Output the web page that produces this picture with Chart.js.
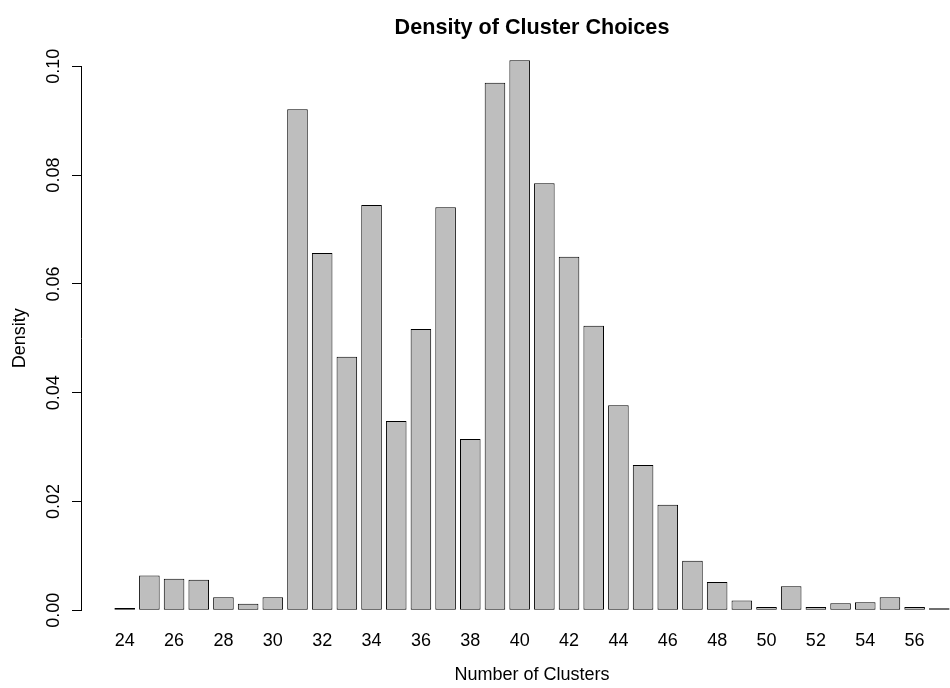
<!DOCTYPE html>
<html>
<head>
<meta charset="utf-8">
<script src="https://cdn.jsdelivr.net/npm/chart.js@4"></script>
<style>
  html, body { margin: 0; padding: 0; background: #fff; }
  #wrap { width: 950px; height: 688px; overflow: hidden; }
</style>
</head>
<body>
<div id="wrap">
  <canvas id="grafico" width="1000" height="688"></canvas>
</div>
<script>
// ===== DADOS =====
const clusterCounts = [24, 25, 26, 27, 28, 29, 30, 31, 32, 33, 34, 35, 36, 37, 38, 39, 40,
  41, 42, 43, 44, 45, 46, 47, 48, 49, 50, 51, 52, 53, 54, 55, 56, 57];
const densityValues = [0.0004, 0.0064, 0.0058, 0.0056, 0.0024, 0.0012, 0.0024, 0.0921,
  0.0657, 0.0466, 0.0745, 0.0348, 0.0517, 0.0741, 0.0315, 0.0970, 0.1011, 0.0785,
  0.0650, 0.0523, 0.0377, 0.0267, 0.0194, 0.0091, 0.0052, 0.0018, 0.0006, 0.0044,
  0.0006, 0.0013, 0.0015, 0.0024, 0.0006, 0.0002];
const xTickLabels = [24, 26, 28, 30, 32, 34, 36, 38, 40, 42, 44, 46, 48, 50, 52, 54, 56];
const yTickLabels = [0, 0.02, 0.04, 0.06, 0.08, 0.10];

const fonte = '"Liberation Sans", Arial, Helvetica, sans-serif';

// ===== GRÁFICO =====
const pontos = clusterCounts.map((c, i) => ({ x: c, y: densityValues[i] }));

new Chart(document.getElementById('grafico'), {
  type: 'bar',
  data: {
    datasets: [{
      data: pontos,
      backgroundColor: '#bebebe',
      borderColor: '#000',
      borderWidth: 1,
      borderSkipped: false,
      barPercentage: 1,
      categoryPercentage: 1 / 1.2,
      minBarLength: 2,
      clip: false
    }]
  },
  options: {
    responsive: false,
    animation: false,
    devicePixelRatio: 1,
    layout: { padding: { left: 0, right: 17, top: 0, bottom: 0 } },
    plugins: {
      legend: { display: false },
      tooltip: { enabled: false },
      title: {
        display: true,
        text: 'Density of Cluster Choices',
        color: '#000',
        fullSize: false,
        font: { family: fonte, size: 21.6, weight: 'bold' },
        padding: { top: 15.5, bottom: 24.9 }
      }
    },
    scales: {
      x: {
        type: 'linear',
        offset: false,
        min: 22.23,
        max: 58.77,
        grid: { display: false, drawTicks: false },
        border: { display: false },
        afterBuildTicks: s => { s.ticks = xTickLabels.map(v => ({ value: v })); },
        afterFit: s => { s.height = 77.7; },
        ticks: {
          color: '#000',
          autoSkip: false,
          maxRotation: 0,
          padding: 20,
          font: { family: fonte, size: 18 },
          callback: v => String(v)
        },
        title: {
          display: true,
          text: 'Number of Clusters',
          color: '#000',
          font: { family: fonte, size: 18 },
          padding: { top: 0, bottom: 2.2 }
        }
      },
      y: {
        min: 0,
        max: 0.1,
        afterBuildTicks: s => { s.ticks = yTickLabels.map(v => ({ value: v })); },
        afterFit: s => { s.width = 81; },
        grid: {
          drawOnChartArea: false,
          drawTicks: true,
          tickLength: 9,
          color: '#000',
          lineWidth: 1
        },
        border: { display: true, color: '#000', width: 1 },
        ticks: {
          color: '#000',
          autoSkip: false,
          minRotation: 90,
          maxRotation: 90,
          crossAlign: 'center',
          padding: 0,
          font: { family: fonte, size: 18 },
          callback: v => v.toFixed(2)
        },
        title: {
          display: true,
          text: 'Density',
          color: '#000',
          font: { family: fonte, size: 18 },
          padding: { top: 9.2, bottom: 0 }
        }
      }
    }
  }
});
</script>
</body>
</html>
